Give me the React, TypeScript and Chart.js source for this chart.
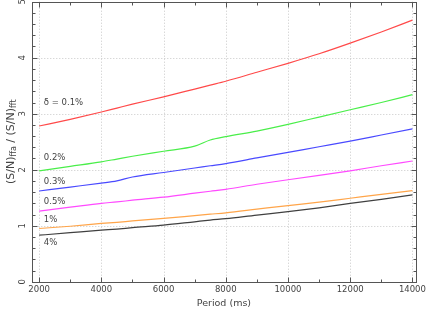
import React, { useEffect, useRef } from "react";
import { Chart, registerables } from "chart.js";

Chart.register(...registerables);

// ---- data ----
const periods = [2000, 3000, 4000, 4500, 5000, 6000, 7000, 7500, 8000, 9000, 10000, 11000, 12000, 13000, 14000];
const delta01 = [2.78, 2.9, 3.03, 3.1, 3.17, 3.3, 3.44, 3.51, 3.58, 3.74, 3.9, 4.07, 4.26, 4.46, 4.67];
const delta02 = [1.98, 2.06, 2.14, 2.19, 2.24, 2.33, 2.42, 2.53, 2.59, 2.69, 2.81, 2.94, 3.07, 3.2, 3.34];
const delta03 = [1.62, 1.69, 1.76, 1.8, 1.87, 1.95, 2.03, 2.07, 2.11, 2.21, 2.31, 2.41, 2.51, 2.62, 2.73];
const delta05 = [1.26, 1.33, 1.4, 1.425, 1.455, 1.51, 1.58, 1.615, 1.65, 1.74, 1.82, 1.9, 1.98, 2.07, 2.155];
const delta1 = [0.95, 0.99, 1.04, 1.06, 1.085, 1.13, 1.18, 1.205, 1.23, 1.295, 1.36, 1.42, 1.49, 1.56, 1.625];
const delta4 = [0.83, 0.875, 0.92, 0.94, 0.965, 1.01, 1.07, 1.1, 1.125, 1.19, 1.25, 1.32, 1.4, 1.47, 1.55];

const seriesNames = ["δ = 0.1%", "0.2%", "0.3%", "0.5%", "1%", "4%"];
const seriesValues = [delta01, delta02, delta03, delta05, delta1, delta4];
const seriesColors = ["#ff4a4a", "#4aee4a", "#4a4aff", "#ff4aff", "#ffa54a", "#404040"];

// curve label anchors (data coordinates)
const labelPeriod = 2150;
const labelLevels = [3.19, 2.22, 1.79, 1.43, 1.1, 0.7];

const xMajorTicks = [2000, 4000, 6000, 8000, 10000, 12000, 14000];
const yMajorTicks = [0, 1, 2, 3, 4, 5];
const xMinorStep = 1000;
const yMinorStep = 0.2;

const FONT = "'DejaVu Sans', sans-serif";
const TEXT = "#444";
const FRAME = "#555";

const decorPlugin = {
  id: "decor",
  beforeDatasetsDraw(chart: any) {
    const { ctx, chartArea: ca, scales } = chart;
    const xs = scales.x, ys = scales.y;
    ctx.save();
    ctx.strokeStyle = "#c8c8c8";
    ctx.lineWidth = 1;
    ctx.setLineDash([1, 2]);
    xMajorTicks.forEach((v) => {
      const px = Math.round(xs.getPixelForValue(v)) + 0.5;
      ctx.beginPath();
      ctx.moveTo(px, ca.top);
      ctx.lineTo(px, ca.bottom);
      ctx.stroke();
    });
    yMajorTicks.forEach((v) => {
      if (v === 0 || v === 5) return;
      const py = Math.round(ys.getPixelForValue(v)) + 0.5;
      ctx.beginPath();
      ctx.moveTo(ca.left, py);
      ctx.lineTo(ca.right, py);
      ctx.stroke();
    });
    ctx.restore();
  },
  afterDatasetsDraw(chart: any) {
    const { ctx, chartArea: ca, scales } = chart;
    const xs = scales.x, ys = scales.y;
    ctx.save();
    // frame
    ctx.strokeStyle = FRAME;
    ctx.lineWidth = 1;
    const L = Math.round(ca.left) + 0.5, R = Math.round(ca.right) + 0.5;
    const T = Math.round(ca.top) + 0.5, B = Math.round(ca.bottom) + 0.5;
    ctx.strokeRect(L, T, R - L, B - T);
    // ticks (major + minor), all four sides, inward
    ctx.beginPath();
    for (let v = xMajorTicks[0]; v <= xMajorTicks[xMajorTicks.length - 1] + 1; v += xMinorStep) {
      const major = xMajorTicks.includes(v);
      const len = major ? 5 : 3;
      const px = Math.round(xs.getPixelForValue(v)) + 0.5;
      ctx.moveTo(px, B);
      ctx.lineTo(px, B - len);
      ctx.moveTo(px, T);
      ctx.lineTo(px, T + len);
    }
    for (let k = 0; k <= 25; k++) {
      const v = k * yMinorStep;
      const major = Math.abs(v - Math.round(v)) < 1e-6;
      const len = major ? 5 : 3;
      const py = Math.round(ys.getPixelForValue(v)) + 0.5;
      ctx.moveTo(L, py);
      ctx.lineTo(L + len, py);
      ctx.moveTo(R, py);
      ctx.lineTo(R - len, py);
    }
    ctx.stroke();

    // y tick labels (rotated)
    ctx.fillStyle = TEXT;
    ctx.font = `8.5px ${FONT}`;
    ctx.textAlign = "center";
    ctx.textBaseline = "middle";
    ys.ticks.forEach((t: any) => {
      const py = ys.getPixelForValue(t.value);
      ctx.save();
      ctx.translate(23, py);
      ctx.rotate(-Math.PI / 2);
      ctx.fillText(String(t.value), 0, 0);
      ctx.restore();
    });

    // y title with subscripts
    ctx.save();
    ctx.translate(9.5, (ca.top + ca.bottom) / 2);
    ctx.rotate(-Math.PI / 2);
    const parts: [string, boolean][] = [["(S/N)", false], ["ffa", true], [" / (S/N)", false], ["fft", true]];
    const mainFont = `11px ${FONT}`;
    const subFont = `8px ${FONT}`;
    let total = 0;
    parts.forEach(([s, sub]) => {
      ctx.font = sub ? subFont : mainFont;
      total += ctx.measureText(s).width;
    });
    let cx = -total / 2;
    ctx.textAlign = "left";
    ctx.textBaseline = "alphabetic";
    parts.forEach(([s, sub]) => {
      ctx.font = sub ? subFont : mainFont;
      ctx.fillText(s, cx, sub ? 6 : 4);
      cx += ctx.measureText(s).width;
    });
    ctx.restore();

    // curve labels
    ctx.font = `8.5px ${FONT}`;
    ctx.textAlign = "left";
    ctx.textBaseline = "middle";
    ctx.fillStyle = TEXT;
    seriesNames.forEach((name, i) => {
      ctx.fillText(name, xs.getPixelForValue(labelPeriod), ys.getPixelForValue(labelLevels[i]));
    });
    ctx.restore();
  },
};

export default function App() {
  const ref = useRef<HTMLCanvasElement | null>(null);
  useEffect(() => {
    if (!ref.current) return;
    const chart = new Chart(ref.current, {
      type: "line",
      data: {
        datasets: seriesNames.map((name, i) => ({
          label: name,
          data: periods.map((p, j) => ({ x: p, y: seriesValues[i][j] })),
          borderColor: seriesColors[i],
          backgroundColor: seriesColors[i],
          borderWidth: 1.2,
          pointRadius: 0,
          cubicInterpolationMode: "monotone",
          fill: false,
        })),
      },
      options: {
        animation: false,
        responsive: false,
        devicePixelRatio: 1,
        layout: { padding: { top: 1.7, right: 9.7, left: 0, bottom: 0 } },
        plugins: { legend: { display: false }, tooltip: { enabled: false } },
        scales: {
          x: {
            type: "linear",
            min: 1780,
            max: 14100,
            afterBuildTicks: (s: any) => {
              s.ticks = xMajorTicks.map((v) => ({ value: v }));
            },
            afterFit: (s: any) => {
              s.height = 27.3;
            },
            grid: { display: false, drawTicks: false },
            border: { display: false },
            ticks: {
              color: TEXT,
              font: { family: FONT, size: 8.5 },
              padding: 3,
              maxRotation: 0,
              autoSkip: false,
              callback: (v: any) => String(v),
            },
            title: {
              display: true,
              text: "Period (ms)",
              color: TEXT,
              font: { family: FONT, size: 9.5, lineHeight: 1 },
              padding: { top: 0, bottom: 1 },
            },
          },
          y: {
            type: "linear",
            min: 0,
            max: 5,
            afterBuildTicks: (s: any) => {
              s.ticks = yMajorTicks.map((v) => ({ value: v }));
            },
            afterFit: (s: any) => {
              s.width = 32.3;
            },
            grid: { display: false, drawTicks: false },
            border: { display: false },
            ticks: { display: false },
          },
        },
      },
      plugins: [decorPlugin],
    } as any);
    return () => chart.destroy();
  }, []);
  return (
    <div style={{ position: "fixed", left: 0, top: 0, width: 429, height: 309, background: "#fff" }}>
      <canvas ref={ref} width={429} height={309} style={{ width: 429, height: 309, display: "block" }} />
    </div>
  );
}
